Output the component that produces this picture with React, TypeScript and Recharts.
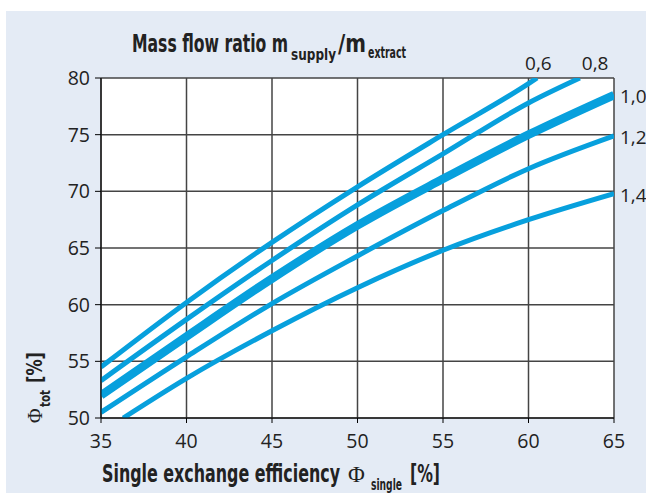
import React from "react"
import { LineChart, Line, XAxis, YAxis, CartesianGrid } from "recharts"

// x positions (single exchange efficiency, %) and totals (%) per mass flow ratio
const ratio06X = [35, 40, 45, 50, 55, 60, 60.5]
const ratio06Y = [54.5, 60.2, 65.5, 70.4, 75.0, 79.5, 80]
const ratio08X = [35, 40, 45, 50, 55, 60, 63]
const ratio08Y = [53.3, 58.7, 63.9, 68.8, 73.3, 77.8, 80]
const ratio10X = [35, 40, 45, 50, 55, 60, 65]
const ratio10Y = [52.0, 57.2, 62.3, 67.0, 71.1, 75.0, 78.5]
const ratio12X = [35, 40, 45, 50, 55, 60, 65]
const ratio12Y = [50.5, 55.4, 60.1, 64.3, 68.3, 72.0, 74.9]
const ratio14X = [36.3, 40, 45, 50, 55, 60, 65]
const ratio14Y = [50, 53.5, 57.7, 61.5, 64.8, 67.5, 69.8]

const xTicks = [35, 40, 45, 50, 55, 60, 65]
const yTicks = [50, 55, 60, 65, 70, 75, 80]

const BLUE = "#07a0dd"
const FONT = "'Open Sans', 'Noto Sans', sans-serif"
const COND = "'Liberation Sans Narrow', 'DejaVu Sans Condensed', 'Liberation Sans', sans-serif"

const toPoints = (xs: number[], ys: number[]) => xs.map((x, i) => ({ x, y: ys[i] }))

const series = [
  { name: "0,6", data: toPoints(ratio06X, ratio06Y), width: 5, dx: -12, dy: -8 },
  { name: "0,8", data: toPoints(ratio08X, ratio08Y), width: 5, dx: 2, dy: -8 },
  { name: "1,0", data: toPoints(ratio10X, ratio10Y), width: 8.5, dx: 6, dy: 8 },
  { name: "1,2", data: toPoints(ratio12X, ratio12Y), width: 5, dx: 6, dy: 8 },
  { name: "1,4", data: toPoints(ratio14X, ratio14Y), width: 5, dx: 6, dy: 8 },
]

const endLabel = (text: string, count: number, dx: number, dy: number) => (props: any) => {
  if (props.index !== count - 1) return null
  return (
    <text x={props.x + dx} y={props.y + dy} fontFamily={FONT} fontSize={19} fill="#222">
      {text}
    </text>
  )
}

export default function App() {
  return (
    <div style={{ position: "absolute", left: 0, top: 0, width: 646, height: 493, background: "#fff" }}>
      <div style={{ position: "absolute", left: 6, top: 11, right: 0, bottom: 0, background: "#e4ebf5" }} />
      <div style={{ position: "absolute", left: 0, top: 0 }}>
        <LineChart width={646} height={493} margin={{ top: 78, right: 32, bottom: 45, left: 61 }}>
          <CartesianGrid fill="#fff" stroke="#444" strokeWidth={1.5} horizontalValues={yTicks} verticalValues={xTicks} />
          <XAxis
            type="number"
            dataKey="x"
            domain={[35, 65]}
            ticks={xTicks}
            height={30}
            tickSize={5}
            tickMargin={11}
            stroke="#000"
            tick={{ fontFamily: FONT, fontSize: 19.5, fill: "#222" }}
            allowDataOverflow
          />
          <YAxis
            type="number"
            dataKey="y"
            domain={[50, 80]}
            ticks={yTicks}
            width={40}
            tickSize={6}
            tickMargin={5}
            stroke="#000"
            tick={{ fontFamily: FONT, fontSize: 19.5, fill: "#222" }}
            allowDataOverflow
          />
          {series.map((s) => (
            <Line
              key={s.name}
              data={s.data}
              dataKey="y"
              type="monotone"
              stroke={BLUE}
              strokeWidth={s.width}
              dot={false}
              activeDot={false}
              isAnimationActive={false}
              label={endLabel(s.name, s.data.length, s.dx, s.dy)}
            />
          ))}
        </LineChart>
      </div>
      <svg width={646} height={493} style={{ position: "absolute", left: 0, top: 0, pointerEvents: "none" }}>
        <g fill="#222" fontFamily={COND} fontWeight="bold">
          <text x={132} y={52} fontSize={25} textLength={156} lengthAdjust="spacingAndGlyphs">Mass flow ratio m</text>
          <text x={291} y={60} fontSize={15} textLength={45} lengthAdjust="spacingAndGlyphs">supply</text>
          <text x={338} y={52} fontSize={25} textLength={28} lengthAdjust="spacingAndGlyphs">/m</text>
          <text x={368} y={58} fontSize={15} textLength={38} lengthAdjust="spacingAndGlyphs">extract</text>

          <text x={102} y={482} fontSize={24} textLength={238} lengthAdjust="spacingAndGlyphs">Single exchange efficiency</text>
          <text x={348} y={482} fontSize={23} fontWeight="normal" fontFamily="'Liberation Serif', 'DejaVu Serif', serif">Φ</text>
          <text x={371} y={490} fontSize={15} textLength={31} lengthAdjust="spacingAndGlyphs">single</text>
          <text x={410} y={482} fontSize={24} textLength={30} lengthAdjust="spacingAndGlyphs">[%]</text>

          <g transform="translate(42, 423) rotate(-90)">
            <text x={0} y={0} fontSize={20} fontWeight="normal" fontFamily="'Liberation Serif', 'DejaVu Serif', serif">Φ</text>
            <text x={16} y={8} fontSize={14} textLength={17} lengthAdjust="spacingAndGlyphs">tot</text>
            <text x={40} y={0} fontSize={21} textLength={31} lengthAdjust="spacingAndGlyphs">[%]</text>
          </g>
        </g>
      </svg>
    </div>
  )
}
